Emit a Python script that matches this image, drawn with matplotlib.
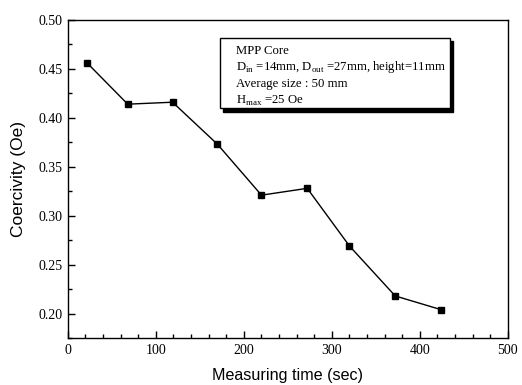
import matplotlib
matplotlib.use("Agg")
import matplotlib.pyplot as plt
from matplotlib.patches import Rectangle
from matplotlib.ticker import MultipleLocator

# measured data
time_sec = [22, 68, 119, 170, 220, 272, 320, 372, 424]
coercivity = [0.456, 0.414, 0.416, 0.373, 0.321, 0.328, 0.269, 0.218, 0.204]

legend_lines = [
    "MPP Core",
    r"D$_{\rm in}$ =14mm, D$_{\rm out}$ =27mm, height=11mm",
    "Average size : 50 mm",
    r"H$_{\rm max}$ =25 Oe",
]

yticks = [0.20, 0.25, 0.30, 0.35, 0.40, 0.45, 0.50]

plt.rcParams['mathtext.fontset'] = 'custom'
plt.rcParams['mathtext.rm'] = 'Liberation Serif'

fig = plt.figure(figsize=(5.22, 3.85), dpi=100)
ax = fig.add_axes([0.130, 0.122, 0.843, 0.826])

ax.plot(time_sec, coercivity, color="black", lw=1.0, marker="s", ms=5, mfc="black", mec="black")

ax.xaxis.set_major_locator(MultipleLocator(100))
ax.xaxis.set_minor_locator(MultipleLocator(20))
ax.yaxis.set_minor_locator(MultipleLocator(0.025))
ax.tick_params(which="both", direction="in", top=False, right=False, width=1.0)
ax.tick_params(which="major", length=5, pad=4)
ax.tick_params(which="minor", length=3)
for sp in ax.spines.values():
    sp.set_linewidth(1.0)

ax.set_xticks([0, 100, 200, 300, 400, 500])
ax.set_xticklabels(["0", "100", "200", "300", "400", "500"], family="Liberation Serif", fontsize=10)
ax.set_yticks(yticks)
ax.set_yticklabels(["%.2f" % v for v in yticks], family="Liberation Serif", fontsize=10)
ax.set_xlim(0, 500)
ax.set_ylim(0.175, 0.50)

ax.set_xlabel("Measuring time (sec)", family="Liberation Sans", fontsize=11.6, labelpad=8)
ax.set_ylabel("Coercivity (Oe)", family="Liberation Sans", fontsize=12.5, labelpad=9)

# annotation box with shadow
bx0, by0, bw, bh = 0.345, 0.722, 0.523, 0.221
ax.add_patch(Rectangle((bx0 + 0.007, by0 - 0.010), bw, bh, transform=ax.transAxes,
                       facecolor="black", edgecolor="black", zorder=4))
ax.add_patch(Rectangle((bx0, by0), bw, bh, transform=ax.transAxes,
                       facecolor="white", edgecolor="black", lw=1.0, zorder=5))
for i, line in enumerate(legend_lines):
    ax.text(bx0 + 0.037, 0.903 - i * 0.052, line, transform=ax.transAxes,
            family="Liberation Serif", fontsize=9.2, va="center", ha="left", zorder=6)

fig.savefig("out.png", dpi=100)
